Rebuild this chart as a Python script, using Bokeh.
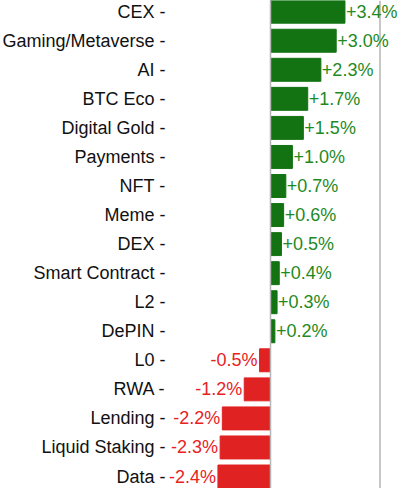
from bokeh.plotting import figure
from bokeh.models import ColumnDataSource, Range1d, Span, LabelSet
from bokeh.core.properties import value
from bokeh.embed import file_html
from bokeh.resources import INLINE

categories = ["CEX", "Gaming/Metaverse", "AI", "BTC Eco", "Digital Gold", "Payments",
              "NFT", "Meme", "DEX", "Smart Contract", "L2", "DePIN",
              "L0", "RWA", "Lending", "Liquid Staking", "Data"]
values = [3.4, 3.0, 2.3, 1.7, 1.5, 1.0, 0.7, 0.6, 0.5, 0.4, 0.3, 0.2,
          -0.5, -1.2, -2.2, -2.3, -2.4]

FONT = value("Liberation Sans")
FS = value("18px")
GREEN_BAR, GREEN_TXT = "#137313", "#1f8a1f"
RED_BAR, RED_TXT = "#e02222", "#e8221f"

idx = list(range(len(categories)))
pos = [i for i, v in zip(idx, values) if v >= 0]
neg = [i for i, v in zip(idx, values) if v < 0]

src = ColumnDataSource(dict(
    y=idx, v=values,
    color=[GREEN_BAR if v >= 0 else RED_BAR for v in values],
    cat=[f"{c} -" for c in categories],
))
src_pos = ColumnDataSource(dict(y=pos, v=[values[i] for i in pos],
                                t=[f"{values[i]:+.1f}%" for i in pos]))
src_neg = ColumnDataSource(dict(y=neg, v=[values[i] for i in neg],
                                t=[f"{values[i]:+.1f}%" for i in neg]))

PXU = 21.9  # pixels per percent
ZERO = 270  # pixel position of the zero line
p = figure(width=398, height=488, output_backend="svg", toolbar_location=None,
           x_range=Range1d(-ZERO / PXU, (398 - ZERO) / PXU),
           y_range=Range1d(16.413, -0.3855),
           min_border=0)
p.outline_line_color = None
p.xgrid.visible = False
p.ygrid.visible = False
p.xaxis.visible = False
p.yaxis.visible = False

p.hbar(y="y", left=0, right="v", height=0.79, source=src,
       fill_color="color", line_color="color")

p.add_layout(Span(location=0, dimension="height", line_color="#b5b5b5", line_width=1.5))
p.add_layout(Span(location=5.0, dimension="height", line_color="#b5b5b5", line_width=1.5))

p.add_layout(LabelSet(x="v", y="y", text="t", source=src_pos, x_offset=1,
                      text_align="left", text_baseline="middle",
                      text_font=FONT, text_font_size=FS, text_color=GREEN_TXT))
p.add_layout(LabelSet(x="v", y="y", text="t", source=src_neg, x_offset=-2,
                      text_align="right", text_baseline="middle",
                      text_font=FONT, text_font_size=FS, text_color=RED_TXT))
p.add_layout(LabelSet(x=0, y="y", text="cat", source=src, x_offset=-105,
                      text_align="right", text_baseline="middle",
                      text_font=FONT, text_font_size=FS, text_color="#111111"))

open("out.html", "w").write(file_html(p, INLINE))
